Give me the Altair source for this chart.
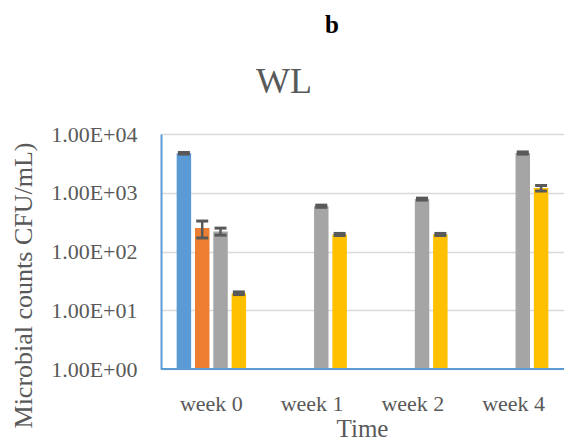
import altair as alt
import pandas as pd

weeks = ["week 0", "week 1", "week 2", "week 4"]
series_names = ["Series1", "Series2", "Series3", "Series4"]
series_colors = ["#5B9BD5", "#ED7D31", "#A5A5A5", "#FFC000"]

blue_vals = [4700, None, None, None]
orange_vals = [250, None, None, None]
grey_vals = [220, 590, 780, 4750]
yellow_vals = [19.5, 195, 195, 1200]

blue_err = [150, None, None, None]
orange_err = [80, None, None, None]
grey_err = [30, 25, 30, 200]
yellow_err = [1, 8, 8, 130]

y_ticks = [1, 10, 100, 1000, 10000]

rows = []
for s, vals, errs in zip(series_names,
                         [blue_vals, orange_vals, grey_vals, yellow_vals],
                         [blue_err, orange_err, grey_err, yellow_err]):
    for w, v, e in zip(weeks, vals, errs):
        if v is None:
            continue
        rows.append({"week": w, "series": s, "value": v,
                     "lo": v - e, "hi": v + e})
df = pd.DataFrame(rows)

FONT = "Liberation Serif"
TXT = "#595959"

x_enc = alt.X("week:N", sort=weeks,
              scale=alt.Scale(domain=weeks, paddingInner=0, paddingOuter=0),
              axis=alt.Axis(title="Time", labelAngle=0, grid=False,
                            ticks=False, tickSize=0, domain=False,
                            labelFont=FONT, labelFontSize=22, labelColor=TXT,
                            titleFont=FONT, titleFontSize=25, titleColor=TXT,
                            titleFontWeight="normal",
                            labelBaseline="alphabetic", labelPadding=41,
                            titleBaseline="alphabetic", titleY=67, titleX=201))
xo_enc = alt.XOffset("series:N",
                     scale=alt.Scale(domain=series_names, paddingInner=0.21,
                                     paddingOuter=0.855))
y_scale = alt.Scale(type="log", domain=[1, 10000], nice=False)

base = alt.Chart(df)

bars = base.mark_bar().encode(
    x=x_enc,
    xOffset=xo_enc,
    y=alt.Y("value:Q", scale=y_scale,
            axis=alt.Axis(title="Microbial counts CFU/mL)", values=y_ticks,
                          labelExpr="'1.00E+0' + round(log(datum.value)/LN10)",
                          grid=True, gridColor="#D9D9D9", gridWidth=1.5,
                          ticks=False, tickSize=0, labelPadding=24,
                          labelFont=FONT, labelFontSize=22, labelColor=TXT,
                          titleFont=FONT, titleFontSize=26, titleColor=TXT,
                          titleFontWeight="normal",
                          domainColor="#5B9BD5", domainWidth=2,
                          titleAngle=270, titleX=-138, titleY=151,
                          titleAlign="center", titleBaseline="middle")),
    y2=alt.datum(1),
    color=alt.Color("series:N", scale=alt.Scale(domain=series_names,
                                                range=series_colors),
                    legend=None),
)

bottom_line = alt.Chart(pd.DataFrame({"v": [1]})).mark_rule(
    color="#5B9BD5", strokeWidth=2).encode(y=alt.Y("v:Q", scale=y_scale))

err_rule = base.mark_rule(color="#595959", strokeWidth=2.5).encode(
    x=x_enc, xOffset=xo_enc,
    y=alt.Y("lo:Q", scale=y_scale), y2="hi:Q")

cap_hi = base.mark_tick(color="#595959", thickness=3, size=12, opacity=1).encode(
    x=x_enc, xOffset=xo_enc, y=alt.Y("hi:Q", scale=y_scale))
cap_lo = base.mark_tick(color="#595959", thickness=3, size=12, opacity=1).encode(
    x=x_enc, xOffset=xo_enc, y=alt.Y("lo:Q", scale=y_scale))

one = pd.DataFrame({"t": [0]})
wl = alt.Chart(one).mark_text(text="WL", font=FONT, fontSize=36,
                              color=TXT, align="center",
                              baseline="alphabetic").encode(
    x=alt.value(123), y=alt.value(-41))
blabel = alt.Chart(one).mark_text(text="b", font=FONT,
                                  fontSize=25, fontWeight="bold",
                                  color="black", align="center",
                                  baseline="alphabetic").encode(
    x=alt.value(171), y=alt.value(-101))

chart = alt.layer(bars, bottom_line, err_rule, cap_hi, cap_lo, wl, blabel).properties(
    width=403, height=235,
    autosize=alt.AutoSizeParams(type="none"),
    padding={"left": 161, "top": 134, "right": 0, "bottom": 74},
    background="white",
).configure_view(stroke=None)

chart.save("out.html", embed_options={"renderer": "svg", "actions": False})
